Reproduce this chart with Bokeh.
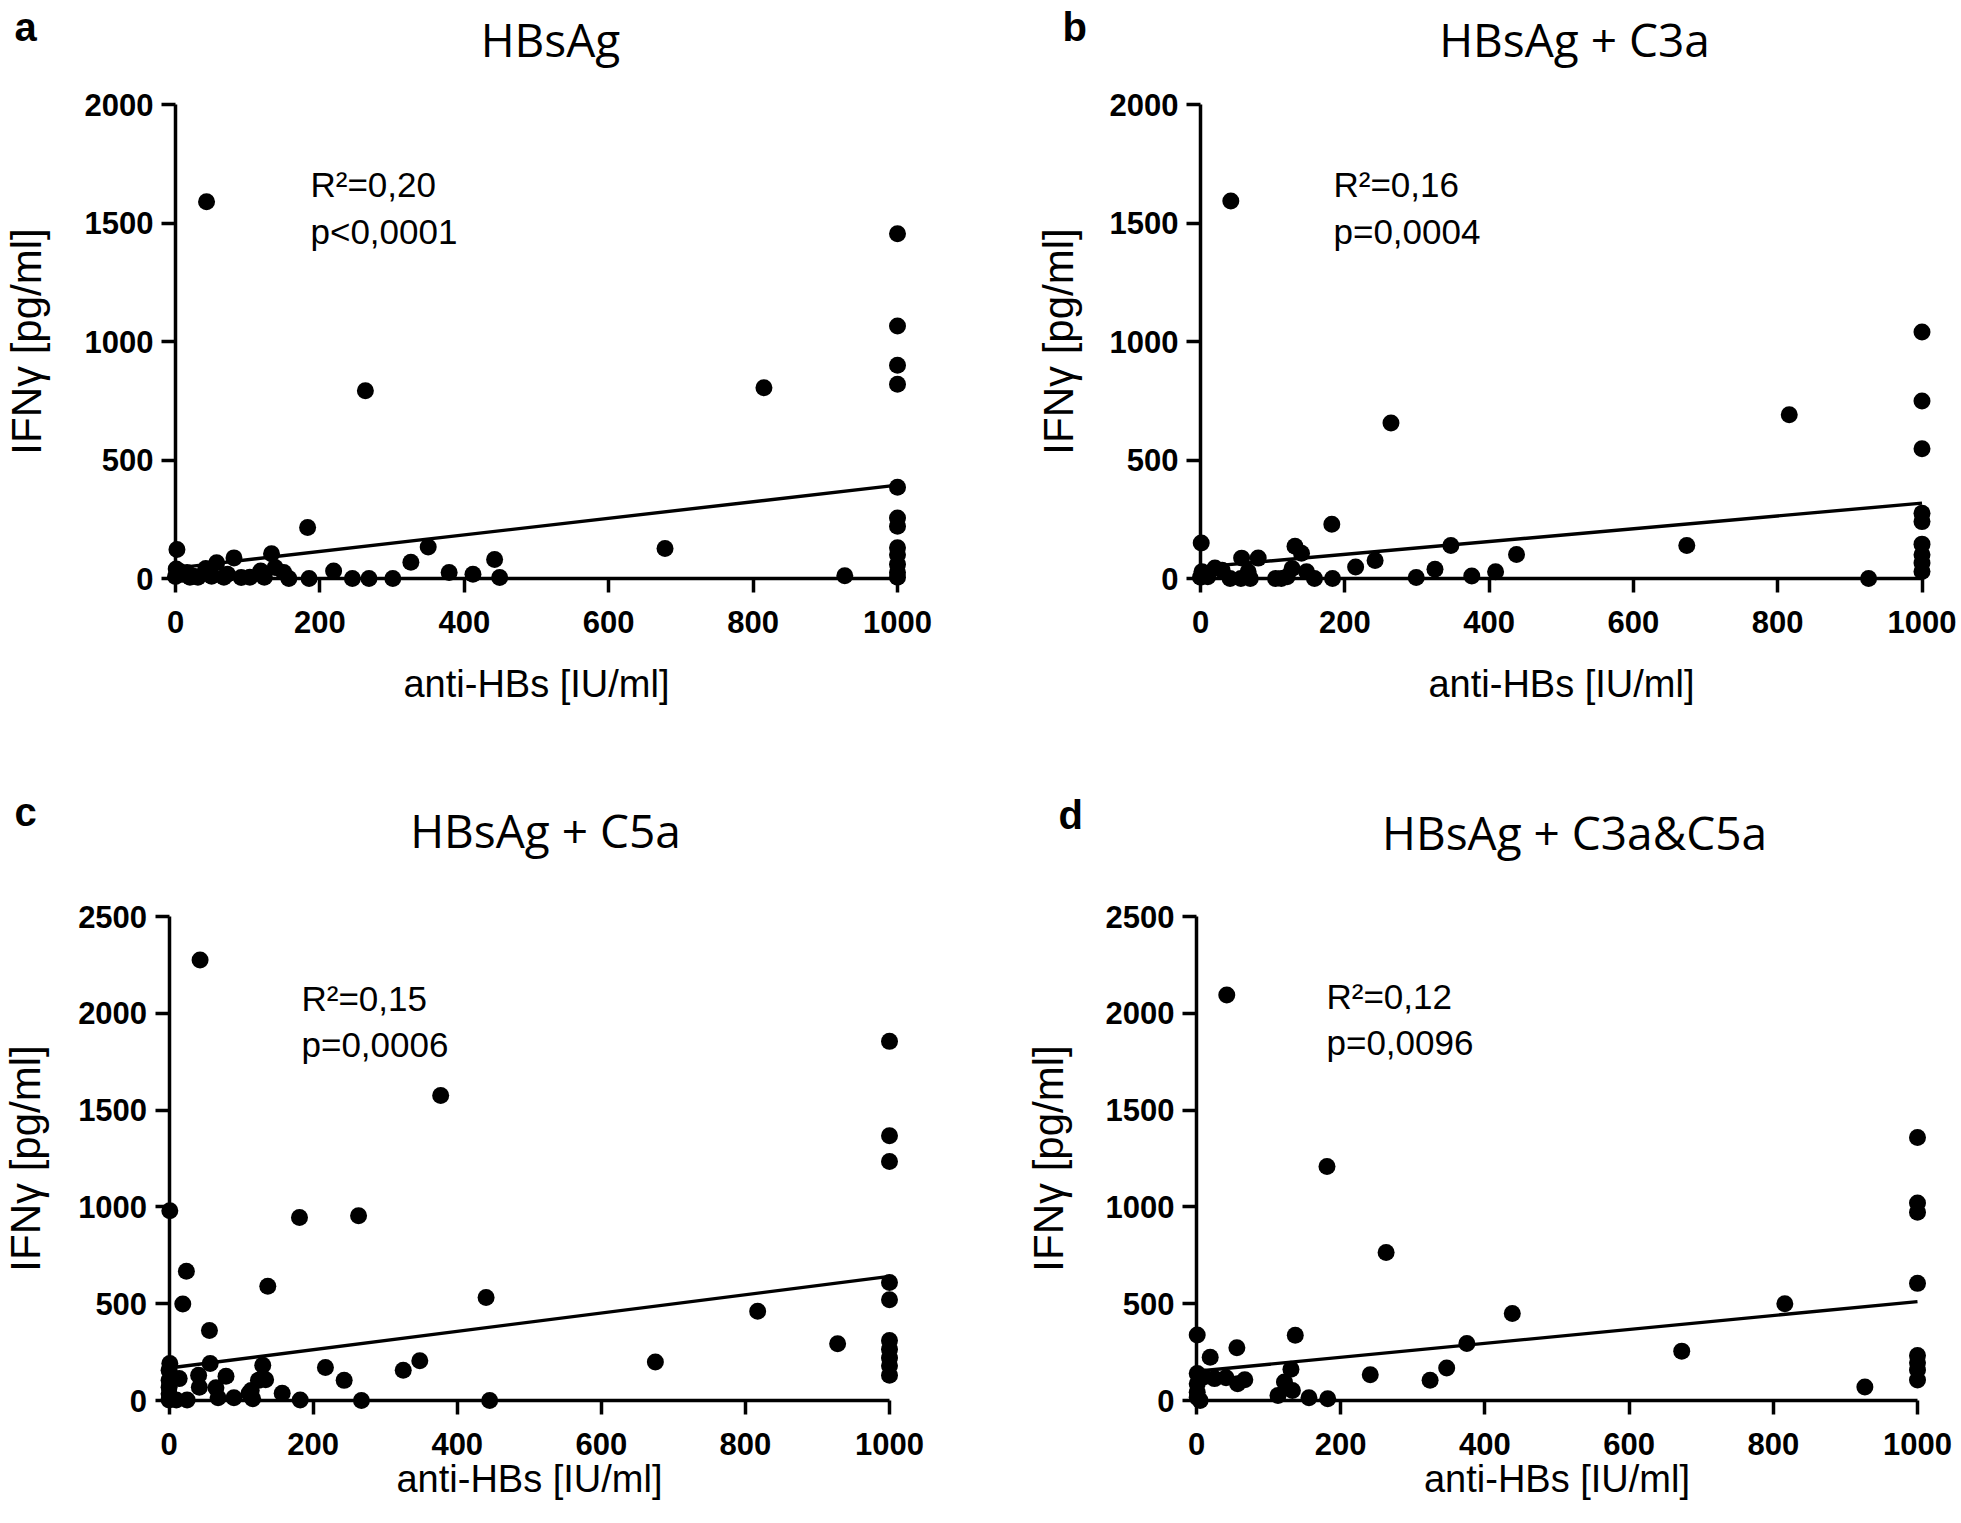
from bokeh.plotting import figure
from bokeh.models import Label, FixedTicker, Range1d
from bokeh.layouts import column, row
from bokeh.embed import file_html
from bokeh.resources import INLINE

# ---------------- data ----------------
titles = ["HBsAg", "HBsAg + C3a", "HBsAg + C5a", "HBsAg + C3a&C5a"]
letters = ["a", "b", "c", "d"]
r2_texts = ["R²=0,20", "R²=0,16", "R²=0,15", "R²=0,12"]
p_texts = ["p<0,0001", "p=0,0004", "p=0,0006", "p=0,0096"]
x_label = "anti-HBs [IU/ml]"
y_label = "IFNγ [pg/ml]"
x_ticks = [0, 200, 400, 600, 800, 1000]
y_ticks_top = [0, 500, 1000, 1500, 2000]
y_ticks_bottom = [0, 500, 1000, 1500, 2000, 2500]

anti_hbs_a = [0, 1, 2, 3, 6, 10, 16, 20, 25, 31, 42, 43, 50, 57, 67, 72, 81, 91, 103, 118,
              123, 133, 138, 150, 157, 183, 185, 219, 245, 263, 268, 301, 326, 350, 379, 412,
              442, 449, 678, 815, 927,
              1000, 1000, 1000, 1000, 1000, 1000, 1000, 1000, 1000, 1000, 1000, 1000]
ifng_a = [8, 40, 122, 25, 30, 18, 25, 5, 10, 5, 42, 1590, 10, 66, 5, 18, 87, 4, 5, 32,
          5, 104, 46, 25, 0, 215, 0, 32, 0, 792, 0, 0, 69, 133, 25, 18,
          80, 4, 127, 805, 12,
          1455, 1065, 900, 820, 385, 255, 220, 130, 100, 60, 25, 5]

anti_hbs_b = [0, 1, 2, 5, 10, 20, 30, 41, 42, 56, 57, 66, 69, 80, 104, 112, 120, 127, 131, 140,
              147, 158, 182, 183, 215, 242, 264, 299, 325, 347, 376, 409, 438, 674, 816, 926,
              1000, 1000, 1000, 1000, 1000, 1000, 1000, 1000, 1000]
ifng_b = [5, 150, 28, 15, 7, 44, 35, 0, 1593, 0, 86, 28, 0, 86, 0, 0, 7, 42, 136, 107,
          28, 0, 229, 0, 49, 76, 656, 4, 39, 139, 11, 28, 101, 139, 691, 0,
          1040, 749, 547, 275, 240, 145, 100, 65, 30]

anti_hbs_c = [0, 0, 0, 0, 0, 1, 1, 10, 14, 19, 24, 25, 41, 42, 43, 56, 57, 65, 68, 79,
              90, 111, 114, 116, 124, 130, 134, 137, 157, 181, 182, 217, 243, 263, 267, 325,
              348, 377, 440, 445, 675, 817, 928,
              1000, 1000, 1000, 1000, 1000, 1000, 1000, 1000, 1000, 1000]
ifng_c = [156, 104, 69, 35, 3, 980, 191, 3, 113, 499, 668, 3, 130, 69, 2275, 361, 191, 66, 14, 125,
          14, 38, 52, 9, 104, 182, 107, 590, 38, 945, 3, 170, 104, 954, 0, 156,
          205, 1575, 532, 0, 199, 461, 293,
          1855, 1368, 1235, 610, 520, 310, 265, 220, 180, 130]

anti_hbs_d = [1, 1, 1, 1, 1, 5, 10, 19, 25, 41, 42, 56, 57, 67, 113, 122, 131, 133, 137, 156,
              181, 182, 241, 263, 324, 347, 375, 438, 673, 816, 927,
              1000, 1000, 1000, 1000, 1000, 1000, 1000, 1000]
ifng_d = [338, 139, 87, 43, 17, 0, 121, 223, 113, 118, 2094, 273, 87, 107, 26, 95, 161, 52, 337, 14,
          1209, 9, 133, 765, 105, 168, 295, 449, 255, 500, 70,
          1358, 1020, 972, 605, 232, 195, 158, 106]

fit_intercept = [44, 48, 168, 151]
fit_slope = [0.35, 0.27, 0.473, 0.36]

# ---------------- layout (screen pixels of the page) ----------------
LAYOUT = [
    dict(left=0, top=0, w=992, h=773, x0=175, x1=897, y0=578, ytop=104, yv=2000,
         letter=(14, 26), title=(550, 38), ann=(310, 184, 231), xls=27, yls=32),
    dict(left=992, top=0, w=968, h=773, x0=1200, x1=1921.5, y0=578, ytop=104, yv=2000,
         letter=(1062, 26), title=(1574, 38), ann=(1333, 184, 231), xls=27, yls=25),
    dict(left=0, top=773, w=992, h=749, x0=168.6, x1=889, y0=1400, ytop=916, yv=2500,
         letter=(14, 811), title=(545, 829), ann=(301, 998, 1044), xls=0, yls=27),
    dict(left=992, top=773, w=968, h=749, x0=1196, x1=1917, y0=1400, ytop=916, yv=2500,
         letter=(1058, 814), title=(1574, 831), ann=(1326, 996, 1042), xls=0, yls=31),
]

SANS = "Liberation Sans"
TITLE_FONT = "Open Sans"


def make_panel(i, xs, ys, yticks):
    L = LAYOUT[i]
    kx = (L["x1"] - L["x0"]) / 1000.0
    ky = (L["y0"] - L["ytop"]) / float(L["yv"])

    def dx(px):
        return (px - L["x0"]) / kx

    def dy(py):
        return (L["y0"] - py) / ky

    p = figure(width=L["w"], height=L["h"], output_backend="svg", toolbar_location=None,
               x_range=Range1d(dx(L["left"]), dx(L["left"] + L["w"])),
               y_range=Range1d(dy(L["top"] + L["h"]), dy(L["top"])),
               min_border=0, min_border_left=0, min_border_right=0,
               min_border_top=0, min_border_bottom=0)
    p.outline_line_color = None
    p.xgrid.visible = False
    p.ygrid.visible = False
    p.background_fill_color = "white"
    p.border_fill_color = "white"

    for ax, bounds, ticks, label in ((p.xaxis, (0, 1000), x_ticks, x_label),
                                     (p.yaxis, (0, yticks[-1]), yticks, y_label)):
        ax.fixed_location = 0
        ax.bounds = bounds
        ax.ticker = FixedTicker(ticks=ticks)
        ax.axis_line_width = 3.5
        ax.axis_line_color = "black"
        ax.major_tick_line_width = 3.5
        ax.major_tick_line_color = "black"
        ax.major_tick_out = 14
        ax.major_tick_in = 0
        ax.minor_tick_line_color = None
        ax.major_label_text_font = SANS
        ax.major_label_text_font_style = "bold"
        ax.major_label_text_font_size = "31px"
        ax.major_label_text_color = "black"
        ax.axis_label = label
        ax.axis_label_text_font = SANS
        ax.axis_label_text_font_style = "normal"
        ax.axis_label_text_color = "black"
    p.xaxis.axis_label_text_font_size = "38px"
    p.yaxis.axis_label_text_font_size = "42px"
    p.xaxis.major_label_standoff = 18
    p.xaxis.axis_label_standoff = L["xls"]
    p.yaxis.major_label_standoff = 8
    p.yaxis.axis_label_standoff = L["yls"]

    # regression line
    xa = [0, max(xs)]
    ya = [fit_intercept[i] + fit_slope[i] * v for v in xa]
    p.line(xa, ya, line_color="black", line_width=3.4)

    p.scatter(xs, ys, size=17, fill_color="black", line_color="black", line_width=0)

    lx, lb = L["letter"]
    p.add_layout(Label(x=dx(lx), y=dy(lb), text=letters[i], text_font=SANS,
                       text_font_style="bold", text_font_size="40px",
                       text_baseline="alphabetic", text_align="left", text_color="black"))
    tx, tb = L["title"]
    p.add_layout(Label(x=dx(tx), y=dy(tb), text=titles[i], text_font=TITLE_FONT,
                       text_font_size="46px", text_baseline="alphabetic",
                       text_align="center", text_color="black"))
    ax_, b1, b2 = L["ann"]
    p.add_layout(Label(x=dx(ax_), y=dy(b1), text=r2_texts[i], text_font=SANS,
                       text_font_size="35px", text_baseline="alphabetic",
                       text_align="left", text_color="black"))
    p.add_layout(Label(x=dx(ax_), y=dy(b2), text=p_texts[i], text_font=SANS,
                       text_font_size="35px", text_baseline="alphabetic",
                       text_align="left", text_color="black"))
    return p


pa = make_panel(0, anti_hbs_a, ifng_a, y_ticks_top)
pb = make_panel(1, anti_hbs_b, ifng_b, y_ticks_top)
pc = make_panel(2, anti_hbs_c, ifng_c, y_ticks_bottom)
pd = make_panel(3, anti_hbs_d, ifng_d, y_ticks_bottom)

layout = column(row(pa, pb, spacing=0), row(pc, pd, spacing=0), spacing=0)

open("out.html", "w").write(file_html(layout, INLINE))
